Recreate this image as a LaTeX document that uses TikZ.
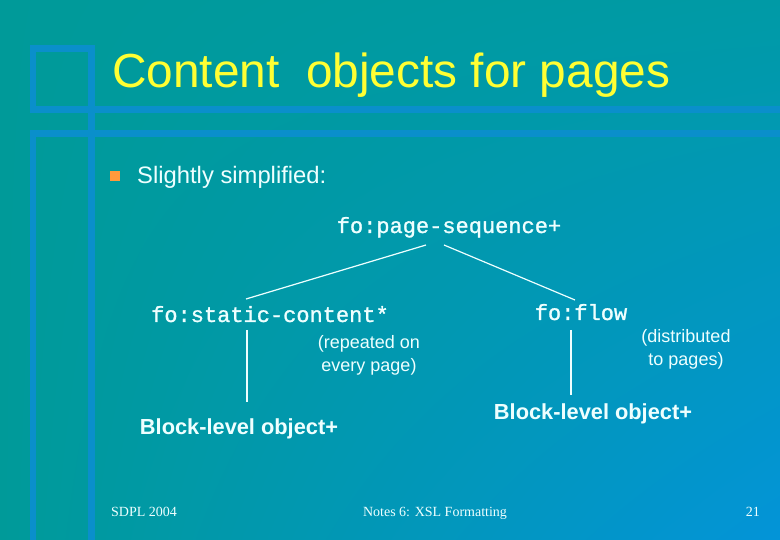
\documentclass[tikz,border=0pt]{standalone}
\usepackage{fontspec}
\setmainfont{Liberation Sans}
\newfontfamily\codefont[FakeBold=1.2]{Liberation Mono}
\newfontfamily\footfont{Liberation Serif}
\usetikzlibrary{shadings}
\definecolor{slideTeal}{HTML}{009A99}
\definecolor{slideTealB}{HTML}{009AA6}
\definecolor{slideBlue}{HTML}{0394D8}
\definecolor{frameBlue}{HTML}{0A8FCB}
\definecolor{titleYellow}{HTML}{FFFF33}
\definecolor{bulletOrange}{HTML}{FF9A3C}
\definecolor{paleText}{HTML}{EEFFFF}

\begin{document}
\begin{tikzpicture}[x=1pt,y=-1pt]
  \tikzset{
    heading/.style={font=\fontsize{47.8}{48}\selectfont,text=titleYellow,inner sep=0pt,anchor=base west},
    lead/.style={font=\fontsize{23.8}{24}\selectfont,text=paleText,inner sep=0pt,anchor=base west},
    code/.style={font=\codefont\fontsize{22}{22}\selectfont,text=paleText,inner sep=0pt,anchor=base},
    note/.style={font=\fontsize{18}{23}\selectfont,text=paleText,align=center,inner sep=0pt},
    block/.style={font=\bfseries\fontsize{21.8}{22}\selectfont,text=paleText,inner sep=0pt,anchor=base},
    foot/.style={font=\footfont\fontsize{14}{14}\selectfont,text=paleText,inner sep=0pt},
    link/.style={draw=paleText,line width=1.2pt},
    band/.style={fill=frameBlue}
  }
  \shade[upper left=slideTeal,upper right=slideTealB,lower left=slideTeal,lower right=slideBlue]
    (0,0) rectangle (780,540);
  \foreach \xa/\ya/\xb/\yb in {30/45/36/113,30/130/36/540,88/45/95/540,30/45/95/52,30/106/780/113,30/130/780/137}
    {\fill[band] (\xa,\ya) rectangle (\xb,\yb);}

  \node[heading] (title) at (112,88) {Content\ \ objects for pages};
  \node[fill=bulletOrange,minimum size=10pt,inner sep=0pt] (bullet) at (115,176) {};
  \node[lead] (lead) at (137,184) {Slightly simplified:};

  \node[code] (seq) at (449,233) {fo:page-sequence+};
  \node[code] (static) at (270,322) {fo:static-content*};
  \node[code] (flow) at (581,320) {fo:flow};
  \node[note] (repeat) at (369,355) {(repeated on\\every page)};
  \node[note] (spread) at (686,349) {(distributed\\to pages)};
  \node[block] (blockL) at (239,434) {Block-level object+};
  \node[block] (blockR) at (593,420) {Block-level object+};

  \draw[link] ([xshift=-23pt,yshift=-12pt]seq.base) -- ([xshift=-24pt,yshift=23pt]static.base);
  \draw[link] ([xshift=-5pt,yshift=-12pt]seq.base) -- ([xshift=-6pt,yshift=20pt]flow.base);
  \draw[link] ([xshift=-23pt,yshift=-8pt]static.base) -- ([xshift=8pt,yshift=32pt]blockL.base);
  \draw[link] ([xshift=-10pt,yshift=-10pt]flow.base) -- ([xshift=-22pt,yshift=25pt]blockR.base);

  \node[foot,anchor=base west] (author) at (111,516) {SDPL 2004};
  \node[foot,anchor=base] (course) at (435,516) {Notes 6: XSL Formatting};
  \node[foot,anchor=base east] (page) at (760,516) {21};
\end{tikzpicture}
\end{document}
